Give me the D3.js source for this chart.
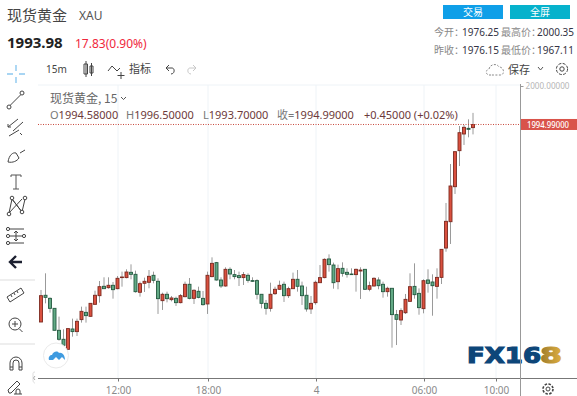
<!DOCTYPE html>
<meta charset="utf-8">
<style>
  html, body { margin: 0; padding: 0; background: #fff; overflow: hidden; }
  text { font-family: "Noto Sans CJK SC", "Noto Sans", sans-serif; }
</style>
<script src="https://d3js.org/d3.v7.min.js"></script>
<div id="my_dataviz"></div>
<script>
// 15 minute candles
var open = [1969.27,1972.75,1972.35,1971.05,1968.19,1967.02,1965.71,1968.36,1968.02,1969.58,1970.53,1970.01,1971.57,1972.70,1973.92,1973.74,1974.05,1973.61,1975.05,1975.05,1975.74,1975.48,1973.14,1974.31,1974.44,1975.35,1974.57,1972.05,1972.88,1972.18,1972.35,1971.79,1972.57,1974.18,1972.35,1973.27,1972.35,1971.62,1975.18,1977.00,1974.74,1973.96,1976.13,1975.44,1975.31,1975.05,1975.35,1974.66,1974.66,1972.88,1971.70,1971.05,1972.96,1973.53,1974.18,1972.70,1973.61,1974.83,1973.96,1972.75,1970.97,1971.79,1974.39,1975.05,1977.48,1976.69,1974.52,1976.26,1975.74,1975.52,1975.44,1975.91,1976.13,1973.53,1973.96,1974.74,1974.18,1973.22,1973.66,1970.23,1969.53,1970.48,1971.96,1973.91,1973.00,1971.01,1974.74,1974.48,1973.91,1975.08,1978.90,1982.33,1986.89,1991.58,1993.75,1994.49,1994.58];
var high = [1973.44,1975.61,1972.48,1971.05,1969.97,1968.32,1968.41,1969.71,1969.71,1971.27,1971.27,1971.70,1973.35,1974.61,1975.09,1975.09,1974.48,1975.26,1975.83,1976.13,1976.78,1975.96,1974.53,1975.05,1976.04,1975.83,1974.96,1973.09,1973.22,1972.66,1972.57,1972.92,1974.53,1975.00,1973.53,1973.87,1973.31,1975.83,1977.69,1977.09,1975.09,1976.39,1976.39,1976.04,1975.83,1975.78,1975.61,1975.09,1974.83,1972.88,1972.14,1974.39,1973.87,1974.66,1974.53,1973.87,1975.70,1976.04,1974.53,1973.87,1972.66,1974.66,1976.69,1977.56,1978.08,1977.00,1976.74,1977.04,1976.26,1976.26,1976.22,1976.39,1976.17,1974.53,1975.09,1975.09,1974.53,1973.87,1973.66,1970.84,1971.05,1972.92,1975.61,1976.91,1973.65,1974.83,1976.13,1975.48,1976.26,1978.73,1984.77,1989.84,1991.45,1994.79,1994.92,1995.66,1996.50];
var low = [1969.27,1971.70,1970.49,1968.19,1966.84,1966.06,1965.71,1967.36,1967.45,1969.19,1969.19,1969.97,1971.57,1971.79,1973.61,1973.61,1972.31,1973.53,1973.87,1974.96,1974.83,1973.09,1972.57,1973.18,1973.66,1974.31,1970.32,1970.84,1971.83,1971.96,1971.36,1971.70,1972.48,1972.22,1971.62,1972.35,1971.40,1970.32,1975.09,1974.66,1973.70,1973.87,1974.83,1974.83,1973.96,1974.09,1974.39,1974.48,1972.22,1971.05,1970.23,1970.62,1972.79,1973.44,1971.88,1972.40,1973.61,1973.22,1971.49,1970.62,1970.32,1971.53,1974.39,1974.96,1975.83,1973.61,1973.53,1975.18,1975.05,1975.39,1973.22,1972.27,1973.44,1973.27,1973.87,1973.53,1972.44,1972.57,1965.93,1966.27,1968.88,1970.31,1971.92,1972.31,1970.22,1970.40,1973.09,1970.09,1972.31,1974.22,1978.42,1979.43,1985.94,1989.58,1992.32,1993.32,1993.70];
var close = [1972.70,1972.48,1971.05,1968.19,1967.02,1966.24,1968.41,1968.02,1969.36,1970.66,1970.10,1971.70,1972.75,1973.87,1973.61,1974.05,1973.48,1974.96,1975.13,1975.78,1975.48,1973.22,1974.26,1974.57,1975.22,1974.70,1972.31,1972.88,1972.31,1972.40,1971.79,1972.70,1974.18,1972.35,1973.40,1972.48,1971.53,1975.35,1976.91,1974.74,1973.96,1976.13,1975.52,1975.18,1975.05,1975.44,1974.70,1974.57,1972.88,1971.70,1971.05,1972.88,1973.53,1974.05,1972.70,1973.61,1974.83,1973.92,1972.70,1970.97,1971.70,1974.44,1975.05,1977.43,1976.74,1974.39,1976.22,1975.61,1975.48,1975.44,1976.13,1976.04,1973.53,1974.00,1974.96,1974.00,1973.22,1973.66,1970.23,1969.62,1970.75,1972.22,1973.87,1972.83,1971.14,1974.65,1974.30,1974.00,1975.08,1978.73,1982.38,1986.98,1991.45,1993.92,1994.62,1994.36,1994.99];

// axis labels
var timeTickIndex = [17, 37, 61, 85, 101];
var timeTickLabels = ["12:00", "18:00", "4", "06:00", "10:00"];
var priceTicks = [2000];
var lastPrice = 1994.99;

var legendItems = [
  {label: "O", value: "1994.58000", x: 50},
  {label: "H", value: "1996.50000", x: 126},
  {label: "L", value: "1993.70000", x: 203},
  {label: "收=", value: "1994.99000", x: 277},
  {label: "", value: "+0.45000 (+0.02%)", x: 364}
];
var quoteRow1 = [["今开：", "1976.25"], ["最高价：", "2000.35"]];
var quoteRow2 = [["昨收：", "1976.15"], ["最低价：", "1967.11"]];

var width = 577, height = 396;
var plot = {left: 38, right: 520.5, top: 85, bottom: 378.5};

var svg = d3.select("#my_dataviz").append("svg")
    .attr("width", width).attr("height", height)
    .style("display", "block");

// scales: one bar is 4.5px, one price unit is 7.68px
var x = d3.scaleLinear().domain([0, 96]).range([41, 473]);
var y = d3.scaleLinear().domain([2000, 1970]).range([86, 316.4]);

// grid
svg.append("g").selectAll("line").data(timeTickIndex).join("line")
    .attr("x1", d => x(d) + .5).attr("x2", d => x(d) + .5)
    .attr("y1", plot.top).attr("y2", plot.bottom)
    .attr("stroke", "#eef3f7");
svg.append("line").attr("x1", plot.left).attr("x2", plot.right)
    .attr("y1", plot.top).attr("y2", plot.top).attr("stroke", "#eef3f7");

// candles
var bars = d3.range(open.length);
var candles = svg.append("g");
candles.selectAll("line").data(bars).join("line")
    .attr("x1", d => x(d)).attr("x2", d => x(d))
    .attr("y1", d => y(high[d])).attr("y2", d => y(low[d]))
    .attr("stroke", "#9a9a9a");
candles.selectAll("rect").data(bars).join("rect")
    .attr("x", d => x(d) - 1.5).attr("width", 3)
    .attr("y", d => y(Math.max(open[d], close[d])))
    .attr("height", d => Math.max(.6, Math.abs(y(open[d]) - y(close[d]))))
    .attr("fill", d => close[d] >= open[d] ? "#d9503f" : "#62a985")
    .attr("stroke", d => close[d] >= open[d] ? "#7c2a20" : "#245a40")
    .attr("stroke-width", .9);

// last price dotted line
svg.append("line").attr("x1", plot.left).attr("x2", plot.right)
    .attr("y1", y(lastPrice)).attr("y2", y(lastPrice))
    .attr("stroke", "#c8473a").attr("stroke-dasharray", "1 1.5");

// logo goes under the axis line
var gold = svg.append("defs").append("linearGradient").attr("id", "gold")
    .attr("x1", 0).attr("x2", 1).attr("y1", 0).attr("y2", 0);
gold.append("stop").attr("offset", 0).attr("stop-color", "#9c7a2c");
gold.append("stop").attr("offset", 1).attr("stop-color", "#e0b040");
svg.append("text").attr("x", 467).attr("y", 363).text("FX16")
    .attr("textLength", 74).attr("lengthAdjust", "spacingAndGlyphs")
    .attr("fill", "#0d4679").attr("stroke", "#0d4679").attr("stroke-width", 1.2)
    .style("font-size", "22px").style("font-weight", 700).style("font-family", "'DejaVu Sans', sans-serif");
svg.append("text").attr("x", 540).attr("y", 363).text("8")
    .attr("textLength", 22).attr("lengthAdjust", "spacingAndGlyphs")
    .attr("fill", "url(#gold)").attr("stroke", "url(#gold)").attr("stroke-width", 1.2)
    .style("font-size", "22px").style("font-weight", 700).style("font-family", "'DejaVu Sans', sans-serif");

// time axis
var xAxis = svg.append("g").attr("transform", "translate(0," + plot.bottom + ")")
    .call(d3.axisBottom(x).tickValues(timeTickIndex)
      .tickFormat((d, i) => timeTickLabels[i]).tickSize(3).tickPadding(5));
xAxis.select(".domain").remove();
xAxis.selectAll("line").attr("stroke", "#777").attr("transform", "translate(.5,0)");
xAxis.selectAll("text").attr("fill", "#8a8a8a").style("font-size", "10px")
    .style("font-family", "'Noto Sans', sans-serif").attr("dx", ".5");
svg.append("line").attr("x1", 38).attr("x2", width).attr("y1", plot.bottom).attr("y2", plot.bottom)
    .attr("stroke", "#777");

// price axis
var yAxis = svg.append("g").attr("transform", "translate(" + plot.right + ",0)")
    .call(d3.axisRight(y).tickValues(priceTicks).tickFormat(d3.format(".5f")).tickSize(3).tickPadding(2));
yAxis.select(".domain").remove();
yAxis.selectAll("line").attr("stroke", "#999");
yAxis.selectAll("text").attr("fill", "#b5b5b5").style("font-size", "9px")
    .style("font-family", "'Noto Sans', sans-serif").attr("textLength", 44).attr("lengthAdjust", "spacingAndGlyphs");
svg.append("line").attr("x1", plot.right).attr("x2", plot.right).attr("y1", 84).attr("y2", height)
    .attr("stroke", "#999");

svg.append("rect").attr("x", 521).attr("y", y(lastPrice) - 5.5).attr("width", 56).attr("height", 11)
    .attr("fill", "#d9534a");
svg.append("text").attr("x", 527).attr("y", y(lastPrice) + 3.5).text(d3.format(".5f")(lastPrice))
    .attr("fill", "#fff").attr("textLength", 42).attr("lengthAdjust", "spacingAndGlyphs")
    .style("font-size", "9.5px").style("font-weight", 500).style("font-family", "'Noto Sans', sans-serif");

// header
function label(t, px, py, size, color, weight) {
  return svg.append("text").attr("x", px).attr("y", py).text(t)
    .attr("fill", color).style("font-size", size + "px").style("font-weight", weight || 400);
}
label("现货黄金", 7, 21, 15, "#444");
label("XAU", 79, 20, 12, "#555").style("font-family", "'Noto Sans', sans-serif");
label("1993.98", 7, 48, 15, "#222", 700).style("font-family", "'Noto Sans', sans-serif");
label("17.83(0.90%)", 75, 48, 12, "#f0283c").style("font-family", "'Noto Sans', sans-serif");

svg.append("rect").attr("x", 443).attr("y", 5).attr("width", 60).attr("height", 14).attr("fill", "#0f9fe8");
svg.append("rect").attr("x", 510).attr("y", 5).attr("width", 60).attr("height", 14).attr("fill", "#06b2cc");
label("交易", 473, 16, 10, "#fff").attr("text-anchor", "middle");
label("全屏", 540, 16, 10, "#fff").attr("text-anchor", "middle");

// proportional colon keeps the label clear of the number
function quoteRow(row, py) {
  label(row[0][0], 434, py, 10, "#888").style("font-feature-settings", '"palt"');
  label(row[0][1], 462, py, 10, "#334").style("font-family", "'Noto Sans', sans-serif");
  label(row[1][0], 501, py, 10, "#888").style("font-feature-settings", '"palt"');
  label(row[1][1], 537, py, 10, "#334").style("font-family", "'Noto Sans', sans-serif");
}
quoteRow(quoteRow1, 36);
quoteRow(quoteRow2, 54);

// top toolbar
label("15m", 46, 73, 10, "#444").style("font-family", "'Noto Sans', sans-serif");
label("指标", 129, 73, 11, "#444");
label("保存", 508, 74, 11, "#444");

function icon(d, color, sw) {
  return svg.append("path").attr("d", d).attr("fill", "none")
    .attr("stroke", color || "#444").attr("stroke-width", sw || 1);
}
icon("M86 61v16M84 64h3.5v10h-3.5zM91.5 63v13M90 66h3v7h-3z");                   // candle
icon("M108 71l4-5 5 5 3-3M121 72v7M117.5 75.5h7");                                 // indicators
icon("M166 68h6c3 0 3 6-1 6M166 68l3-3M166 68l3 3");                               // undo
icon("M196 68h-6c-3 0-3 6 1 6M196 68l-3-3M196 68l-3 3", "#c8c8c8");                // redo
icon("M491 75h-2c-3 0-4-5 0-6 1-5 8-6 10-2 5 0 6 7 2 8h-10", "#888").attr("stroke-dasharray", "2 1.5");
icon("M538 67l2.5 3 2.5-3", "#555");
svg.append("circle").attr("cx", 562).attr("cy", 69).attr("r", 2.2).attr("fill", "none").attr("stroke", "#444");
svg.append("circle").attr("cx", 562).attr("cy", 69).attr("r", 5.6).attr("fill", "none").attr("stroke", "#444")
    .attr("stroke-dasharray", "3 1.4");

// legend
label("现货黄金, 15", 50, 103, 12, "#666");
icon("M121 97l2.5 2.5 2.5-2.5", "#555");
legendItems.forEach(function(it) {
  var t = svg.append("text").attr("x", it.x).attr("y", 119)
      .style("font-size", "11px").style("font-family", "'Noto Sans', 'Noto Sans CJK SC', sans-serif");
  t.append("tspan").attr("fill", "#777").text(it.label);
  t.append("tspan").attr("fill", "#6d3a3a").text(it.value);
});

// left drawing tools
icon("M7 74h6M19 74h6M16 65v6M16 77v6", "#8cc8f0", 1.4);
icon("M9.5 106l11-11");
svg.append("circle").attr("cx", 9).attr("cy", 107).attr("r", 2).attr("fill", "#fff").attr("stroke", "#444");
svg.append("circle").attr("cx", 22).attr("cy", 93).attr("r", 2).attr("fill", "#fff").attr("stroke", "#444");
icon("M8 127l10-8M13 131l10-9M9 136l10-6M8 124v3h3M20 133l2 2");
icon("M8 162c1-7 5-10 8-9l3 5c-2 3-6 5-11 4zM20 153l5-3");
icon("M11 175h10M16 175v14M13 189h6M11 175v2M21 175v2", "#555");
icon("M9 213l3-14 10 13 3-13M12 199l10 13M9 213l13-14");
[[9,214],[12,198],[22,212],[25,198]].forEach(function(p) {
  svg.append("circle").attr("cx", p[0]).attr("cy", p[1]).attr("r", 1.8).attr("fill", "#fff").attr("stroke", "#444");
});
icon("M8 229h16M8 236h16M8 243h16M16 231v10M14 233l2-2 2 2M14 239l2 2 2-2");
[[8,229],[8,236],[8,243],[24,236]].forEach(function(p) {
  svg.append("circle").attr("cx", p[0]).attr("cy", p[1]).attr("r", 1.6).attr("fill", "#fff").attr("stroke", "#444");
});
icon("M11 262h11M16 256l-6 6 6 6", "#1c2030", 2.4);
svg.append("g").selectAll("line").data([280, 344]).join("line")
    .attr("x1", 0).attr("x2", 35).attr("y1", d => d).attr("y2", d => d).attr("stroke", "#ddd");
icon("M7 297l14-9 3 5-14 9zM11 295l1 2M14 293l1 2M17 291l1 2");
svg.append("circle").attr("cx", 15).attr("cy", 324).attr("r", 6).attr("fill", "none").attr("stroke", "#444");
icon("M12 324h6M15 321v6M19.5 329l3 3");
icon("M10 370v-7a6 6 0 0 1 12 0v7h-3v-7a3 3 0 0 0-6 0v7zM10 367h3M19 367h3");
icon("M9 393l-1-3 9-9 3 3-9 9zM16 394v-3a2 2 0 0 1 4 0v3M14 394h8");
icon("M35 372c-2 0-2 1-2 2v6c0 2 1 3 2 3", "#ddd");
icon("M35 376l-1.5 2 1.5 2", "#aaa");

// cloud badge
svg.append("circle").attr("cx", 56).attr("cy", 355.5).attr("r", 12.5).attr("fill", "#fff").attr("stroke", "#eaeaea");
svg.append("path").attr("d", "M49 360c-1-3 1-5 3-5 1-3 5-5 7-2 3-1 6 2 6 7l-3-3-3 3-3-3-3 3z").attr("fill", "#3f9be0");

// settings gear at bottom right
svg.append("circle").attr("cx", 548).attr("cy", 389).attr("r", 2).attr("fill", "none").attr("stroke", "#444");
svg.append("circle").attr("cx", 548).attr("cy", 389).attr("r", 5).attr("fill", "none").attr("stroke", "#444")
    .attr("stroke-width", 1.6).attr("stroke-dasharray", "2.5 1.4");
</script>
